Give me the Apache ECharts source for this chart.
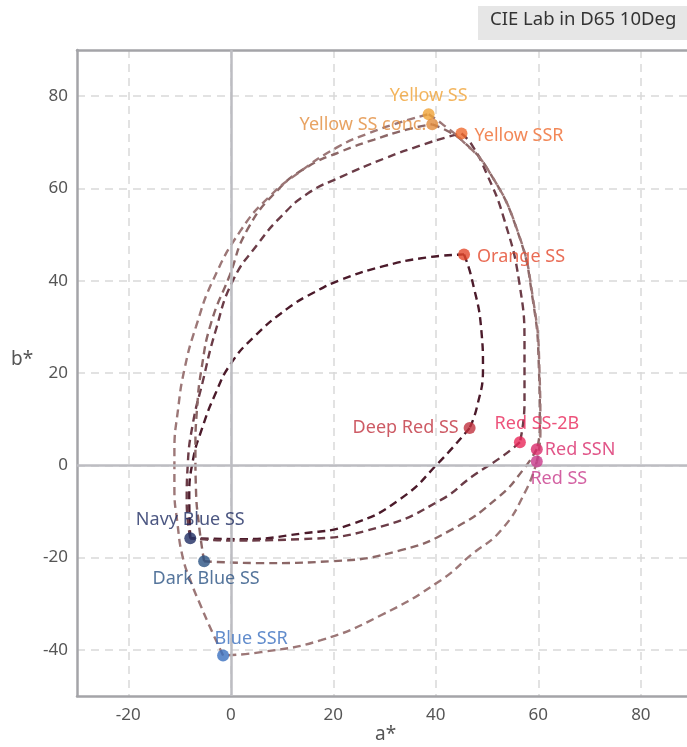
<!DOCTYPE html>
<html><head><meta charset="utf-8">
<script src="https://cdn.jsdelivr.net/npm/echarts@6/dist/echarts.min.js"></script>
<style>html,body{margin:0;padding:0;background:#fff}#c{width:687px;height:747px}</style>
</head><body><div id="c"></div><script>
// ---- data ----
const dyeNames = ['Yellow SS','Yellow SS conc.','Yellow SSR','Orange SS','Deep Red SS','Red SS-2B','Red SSN','Red SS','Navy Blue SS','Dark Blue SS','Blue SSR'];
const aValues  = [38.6, 39.3, 45.0, 45.5, 46.6, 56.4, 59.7, 59.7, -7.9, -5.2, -1.5];
const bValues  = [76.1, 73.9, 71.9, 45.7,  8.1,  5.0,  3.5,  0.8, -15.8, -20.8, -41.2];
const dyeColors = ['#f0a236','#e28c3c','#ef6a2e','#e4472a','#c0323e','#e8285a','#d92b6a','#c83a8b','#1f2d63','#2a5283','#3a6fbf'];

const xTicks = [-20, 0, 20, 40, 60, 80];
const yTicks = [-40, -20, 0, 20, 40, 60, 80];

// gamut outlines, waypoints ([a*, b*])
const setA_OrangeToDeepRed = [[45.5,45.7],[47,40.5],[48.9,29],[49.2,21],[48,12.5],[46.6,8.1]];
const setA_DeepRedToNavy   = [[46.6,8.1],[40.5,0.5],[33.2,-7.2],[23.5,-12.8],[13.7,-14.8],[2,-16],[-7.9,-15.8]];
const setA_NavyToOrange    = [[-7.9,-15.8],[-8.1,-7],[-7.4,1],[-5.6,8],[-3,15.5],[0,22],[4.6,27.9],[11.1,34],[16.3,37.5],[21.5,40.2],[30,43.2],[38,45],[45.5,45.7]];

const setB_YellowSSRToRed2B = [[45,71.9],[47,69.5],[50,63],[53.2,53.8],[56.3,39.5],[57.3,25],[57.3,13.5],[56.4,5.0]];
const setB_Red2BToNavy      = [[56.4,5.0],[53.3,2.2],[47,-2.5],[41,-7.5],[29.3,-13.3],[13.7,-16],[0,-16.3],[-7.9,-15.8]];
const setB_NavyToYellowSSR  = [[-7.9,-15.8],[-8.6,-8],[-8.4,0],[-7.4,9],[-5.5,18],[-3,29],[0.4,40],[5.3,48],[9.8,53.9],[15,58.9],[21.5,62.5],[30,66.5],[37,69.3],[42.4,71.2],[45,71.9]];

const setC_ConcToRedSSN      = [[39.3,73.9],[42,72.6],[45.3,70.2],[50.2,64],[56,50.5],[58.9,36],[60.1,21.3],[60.3,8],[59.7,3.5]];
const setC_RedSSNToDarkBlue  = [[59.7,3.5],[57.3,-0.6],[52.2,-6.9],[43,-14],[33.2,-18.4],[19.6,-20.8],[5.9,-21.2],[-5.2,-20.8]];
const setC_DarkBlueToConc    = [[-5.2,-20.8],[-6.2,-13],[-6.8,-5],[-6.9,3],[-6.6,12],[-5.7,21],[-3.8,31],[-0.3,40.9],[3.2,51],[9.2,59.7],[15,64.7],[21.5,68],[28,70.6],[34.5,72.8],[39.3,73.9]];

const setD_YellowToRedSS     = [[38.6,76.1],[41.1,74.1],[45,70.5],[50.2,64],[56.1,50.3],[59,35.8],[60.2,21.3],[60.4,7],[59.7,0.8]];
const setD_RedSSToBlueSSR    = [[59.7,0.8],[57.6,-5.4],[52.8,-14],[46.9,-19.4],[41,-24.9],[29.3,-32.5],[17.6,-37.9],[5.9,-40.5],[-1.5,-41.2]];
const setD_BlueSSRToYellow   = [[-1.5,-41.2],[-3.8,-35.7],[-5.8,-30.6],[-7.7,-25.5],[-9.4,-19.8],[-10.4,-12.6],[-11,-5],[-11,3],[-10.3,12],[-9,21],[-6.8,30],[-3.5,40],[2,51],[7.5,58.2],[13.1,63.3],[20.9,69],[27,72],[33,74.3],[38.6,76.1]];

// ---- styling ----
const FONT = 'Noto Sans';
const curveStyles = [
  {paths:[setA_OrangeToDeepRed,setA_DeepRedToNavy,setA_NavyToOrange], color:'#4b1a2a'},
  {paths:[setB_YellowSSRToRed2B,setB_Red2BToNavy,setB_NavyToYellowSSR], color:'#6b3c47'},
  {paths:[setC_ConcToRedSSN,setC_RedSSNToDarkBlue,setC_DarkBlueToConc], color:'#8c6767'},
  {paths:[setD_YellowToRedSS,setD_RedSSToBlueSSR,setD_BlueSSRToYellow], color:'#9c7777'}
];
const labelPlacement = {
  'Yellow SS':      {position:'top', distance:3, offset:[0,0]},
  'Yellow SS conc.':{position:'left', distance:0, offset:[0,1]},
  'Yellow SSR':     {position:'right', distance:7, offset:[0,2]},
  'Orange SS':      {position:'right', distance:7, offset:[0,2]},
  'Deep Red SS':    {position:'left', distance:5, offset:[0,0]},
  'Red SS-2B':      {position:'top', distance:3, offset:[17,0]},
  'Red SSN':        {position:'right', distance:2, offset:[0,1]},
  'Red SS':         {position:'bottom', distance:2, offset:[22,0]},
  'Navy Blue SS':   {position:'top', distance:3, offset:[0,0]},
  'Dark Blue SS':   {position:'bottom', distance:3, offset:[2,0]},
  'Blue SSR':       {position:'top', distance:2, offset:[28,0]}
};

const series = [];
curveStyles.forEach((cs, si) => {
  cs.paths.forEach(p => {
    series.push({
      type:'line', data:p, smooth:0.5, showSymbol:false, silent:true, z:2+si*0.1,
      lineStyle:{color:cs.color, width:2.4, type:[8,5]}
    });
  });
});
// zero lines
series.push({
  type:'line', data:[], silent:true, z:1,
  markLine:{silent:true, symbol:'none', label:{show:false},
    lineStyle:{color:'#bdbdc2', width:2.5, type:'solid'},
    data:[{xAxis:0},{yAxis:0}]}
});
series.push({
  type:'scatter', z:10, symbolSize:12,
  data: dyeNames.map((n,i)=>({
    value:[aValues[i], bValues[i]], name:n,
    itemStyle:{color:dyeColors[i]},
    label:Object.assign({show:true, formatter:n, color:dyeColors[i], fontSize:18, fontFamily:FONT}, labelPlacement[n])
  }))
});

const axisLineStyle = {show:true, onZero:false, lineStyle:{color:'#a4a4a8', width:2.5}};
const gridLine = {show:true, showMinLine:false, showMaxLine:false, lineStyle:{color:'#d9d9d9', width:1.5, type:[8,6]}};
const chart = echarts.init(document.getElementById('c'), null, {renderer:'canvas'});
chart.setOption({
  animation:false,
  backgroundColor:'#fff',
  grid:{left:77, top:50, right:0, bottom:51, containLabel:false, outerBoundsMode:'none'},
  xAxis:[
    {type:'value', min:-30, max:89, splitNumber:6, position:'bottom',
      axisLine:axisLineStyle, axisTick:{show:false},
      axisLabel:{color:'#555', fontSize:17, fontFamily:FONT, margin:11, showMinLabel:false, showMaxLabel:false,
        formatter:v=> xTicks.includes(v) ? String(v) : ''},
      splitLine:gridLine},
    {type:'value', min:-30, max:89, position:'top',
      axisLine:axisLineStyle, axisTick:{show:false}, axisLabel:{show:false}, splitLine:{show:false}}
  ],
  yAxis:{type:'value', min:-50, max:90, splitNumber:7,
    axisLine:axisLineStyle, axisTick:{show:false},
    axisLabel:{color:'#555', fontSize:17, fontFamily:FONT, margin:9, showMinLabel:false, showMaxLabel:false,
      formatter:v=> yTicks.includes(v) ? String(v) : ''},
    splitLine:gridLine},
  graphic:[
    {type:'rect', left:478, top:6, shape:{width:215, height:34}, style:{fill:'#e6e6e6'}},
    {type:'text', left:490, top:10, style:{text:'CIE Lab in D65 10Deg', fill:'#333', font:'18.5px "Noto Sans"'}},
    {type:'text', left:375, top:725, style:{text:'a*', fill:'#555', font:'19px "Noto Sans"'}},
    {type:'text', left:11, top:350, style:{text:'b*', fill:'#555', font:'19px "Noto Sans"'}}
  ],
  series: series
});
</script></body></html>
